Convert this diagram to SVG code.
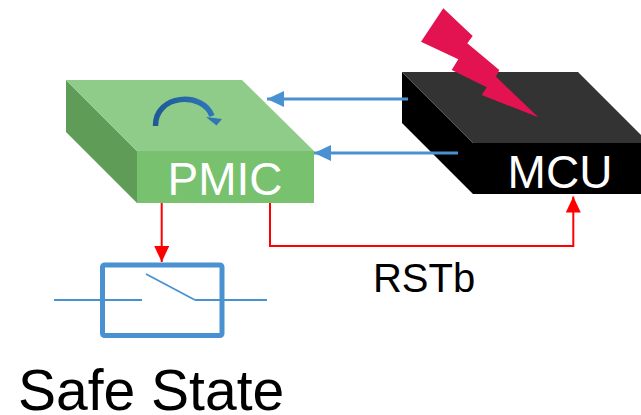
<svg xmlns="http://www.w3.org/2000/svg" width="641" height="415" viewBox="0 0 641 415">
  <defs>
    <style>
      .lbl { font-family: "Liberation Sans", Arial, sans-serif; }
      .blue { stroke: #4A91D2; stroke-width: 3; fill: none; }
      .red { stroke: #FF0000; stroke-width: 2; fill: none; }
    </style>
    <marker id="bluehead" markerUnits="userSpaceOnUse" markerWidth="18" markerHeight="16" refX="17" refY="8" orient="auto">
      <path d="M0,0 L17,8 L0,16 Z" fill="#4A91D2"/>
    </marker>
    <marker id="redhead" markerUnits="userSpaceOnUse" markerWidth="16" markerHeight="16" refX="16" refY="7.5" orient="auto">
      <path d="M0,0 L16,7.5 L0,15 Z" fill="#FF0000"/>
    </marker>
    <linearGradient id="swirl" x1="0" y1="0" x2="1" y2="0">
      <stop offset="0" stop-color="#1E5A96"/>
      <stop offset="1" stop-color="#2E76B8"/>
    </linearGradient>
  </defs>

  <rect width="641" height="415" fill="#FFFFFF"/>

  <!-- PMIC block -->
  <g id="pmic">
    <polygon points="66,80 137,151 137,203 66,132" fill="#5E9C57"/>
    <polygon points="66,80 242,80 314,151 137,151" fill="#90CC89"/>
    <rect x="137" y="151" width="177" height="52" fill="#77C16F"/>
    <path d="M155.5,126 C155,94 203,91 212,116" stroke="url(#swirl)" stroke-width="5.5" fill="none"/>
    <polygon points="206,117 222,119 216.5,125.5" fill="#2E76B8"/>
    <text class="lbl" x="225" y="195" font-size="46" fill="#FFFFFF" text-anchor="middle">PMIC</text>
  </g>

  <!-- MCU block -->
  <g id="mcu">
    <polygon points="402,72 473,143 473,194 402,123" fill="#000000"/>
    <polygon points="402,72 578,72 641,135 641,143 473,143" fill="#333333"/>
    <rect x="473" y="143" width="168" height="51" fill="#000000"/>
    <text class="lbl" x="560" y="188" font-size="46" fill="#FFFFFF" text-anchor="middle">MCU</text>
  </g>

  <!-- Disturbance strike -->
  <g id="strike">
    <polygon points="443.3,8.3 472.7,36 467.3,43.3 499.3,70 496,76.7 538.3,117.3 481.7,95 486.7,87.3 451.7,70 458.3,59.3 421,41.7" fill="#E31250"/>
  </g>

  <!-- Safe state switch -->
  <g id="switch">
    <rect x="102.5" y="265" width="119.5" height="70.5" rx="2" fill="none" stroke="#4A91D2" stroke-width="5"/>
    <g stroke="#4A91D2" stroke-width="1.8" fill="none">
      <line x1="54" y1="300" x2="142" y2="300"/>
      <line x1="146" y1="274" x2="195" y2="300"/>
      <line x1="195" y1="300" x2="267" y2="300"/>
    </g>
  </g>

  <!-- Connectors -->
  <g id="connectors">
    <line class="blue" x1="408" y1="99" x2="267" y2="99" marker-end="url(#bluehead)"/>
    <line class="blue" x1="458" y1="153" x2="314" y2="153" marker-end="url(#bluehead)"/>
    <line class="red" x1="161.7" y1="203" x2="161.7" y2="262" marker-end="url(#redhead)"/>
    <polyline class="red" points="270,203 270,246 573.3,246 573.3,196.5" marker-end="url(#redhead)"/>
  </g>

  <!-- Labels -->
  <g id="labels">
    <text class="lbl" x="424" y="292" font-size="40" fill="#000000" text-anchor="middle">RSTb</text>
    <text class="lbl" x="18" y="410" font-size="57" fill="#000000">Safe State</text>
  </g>
</svg>
